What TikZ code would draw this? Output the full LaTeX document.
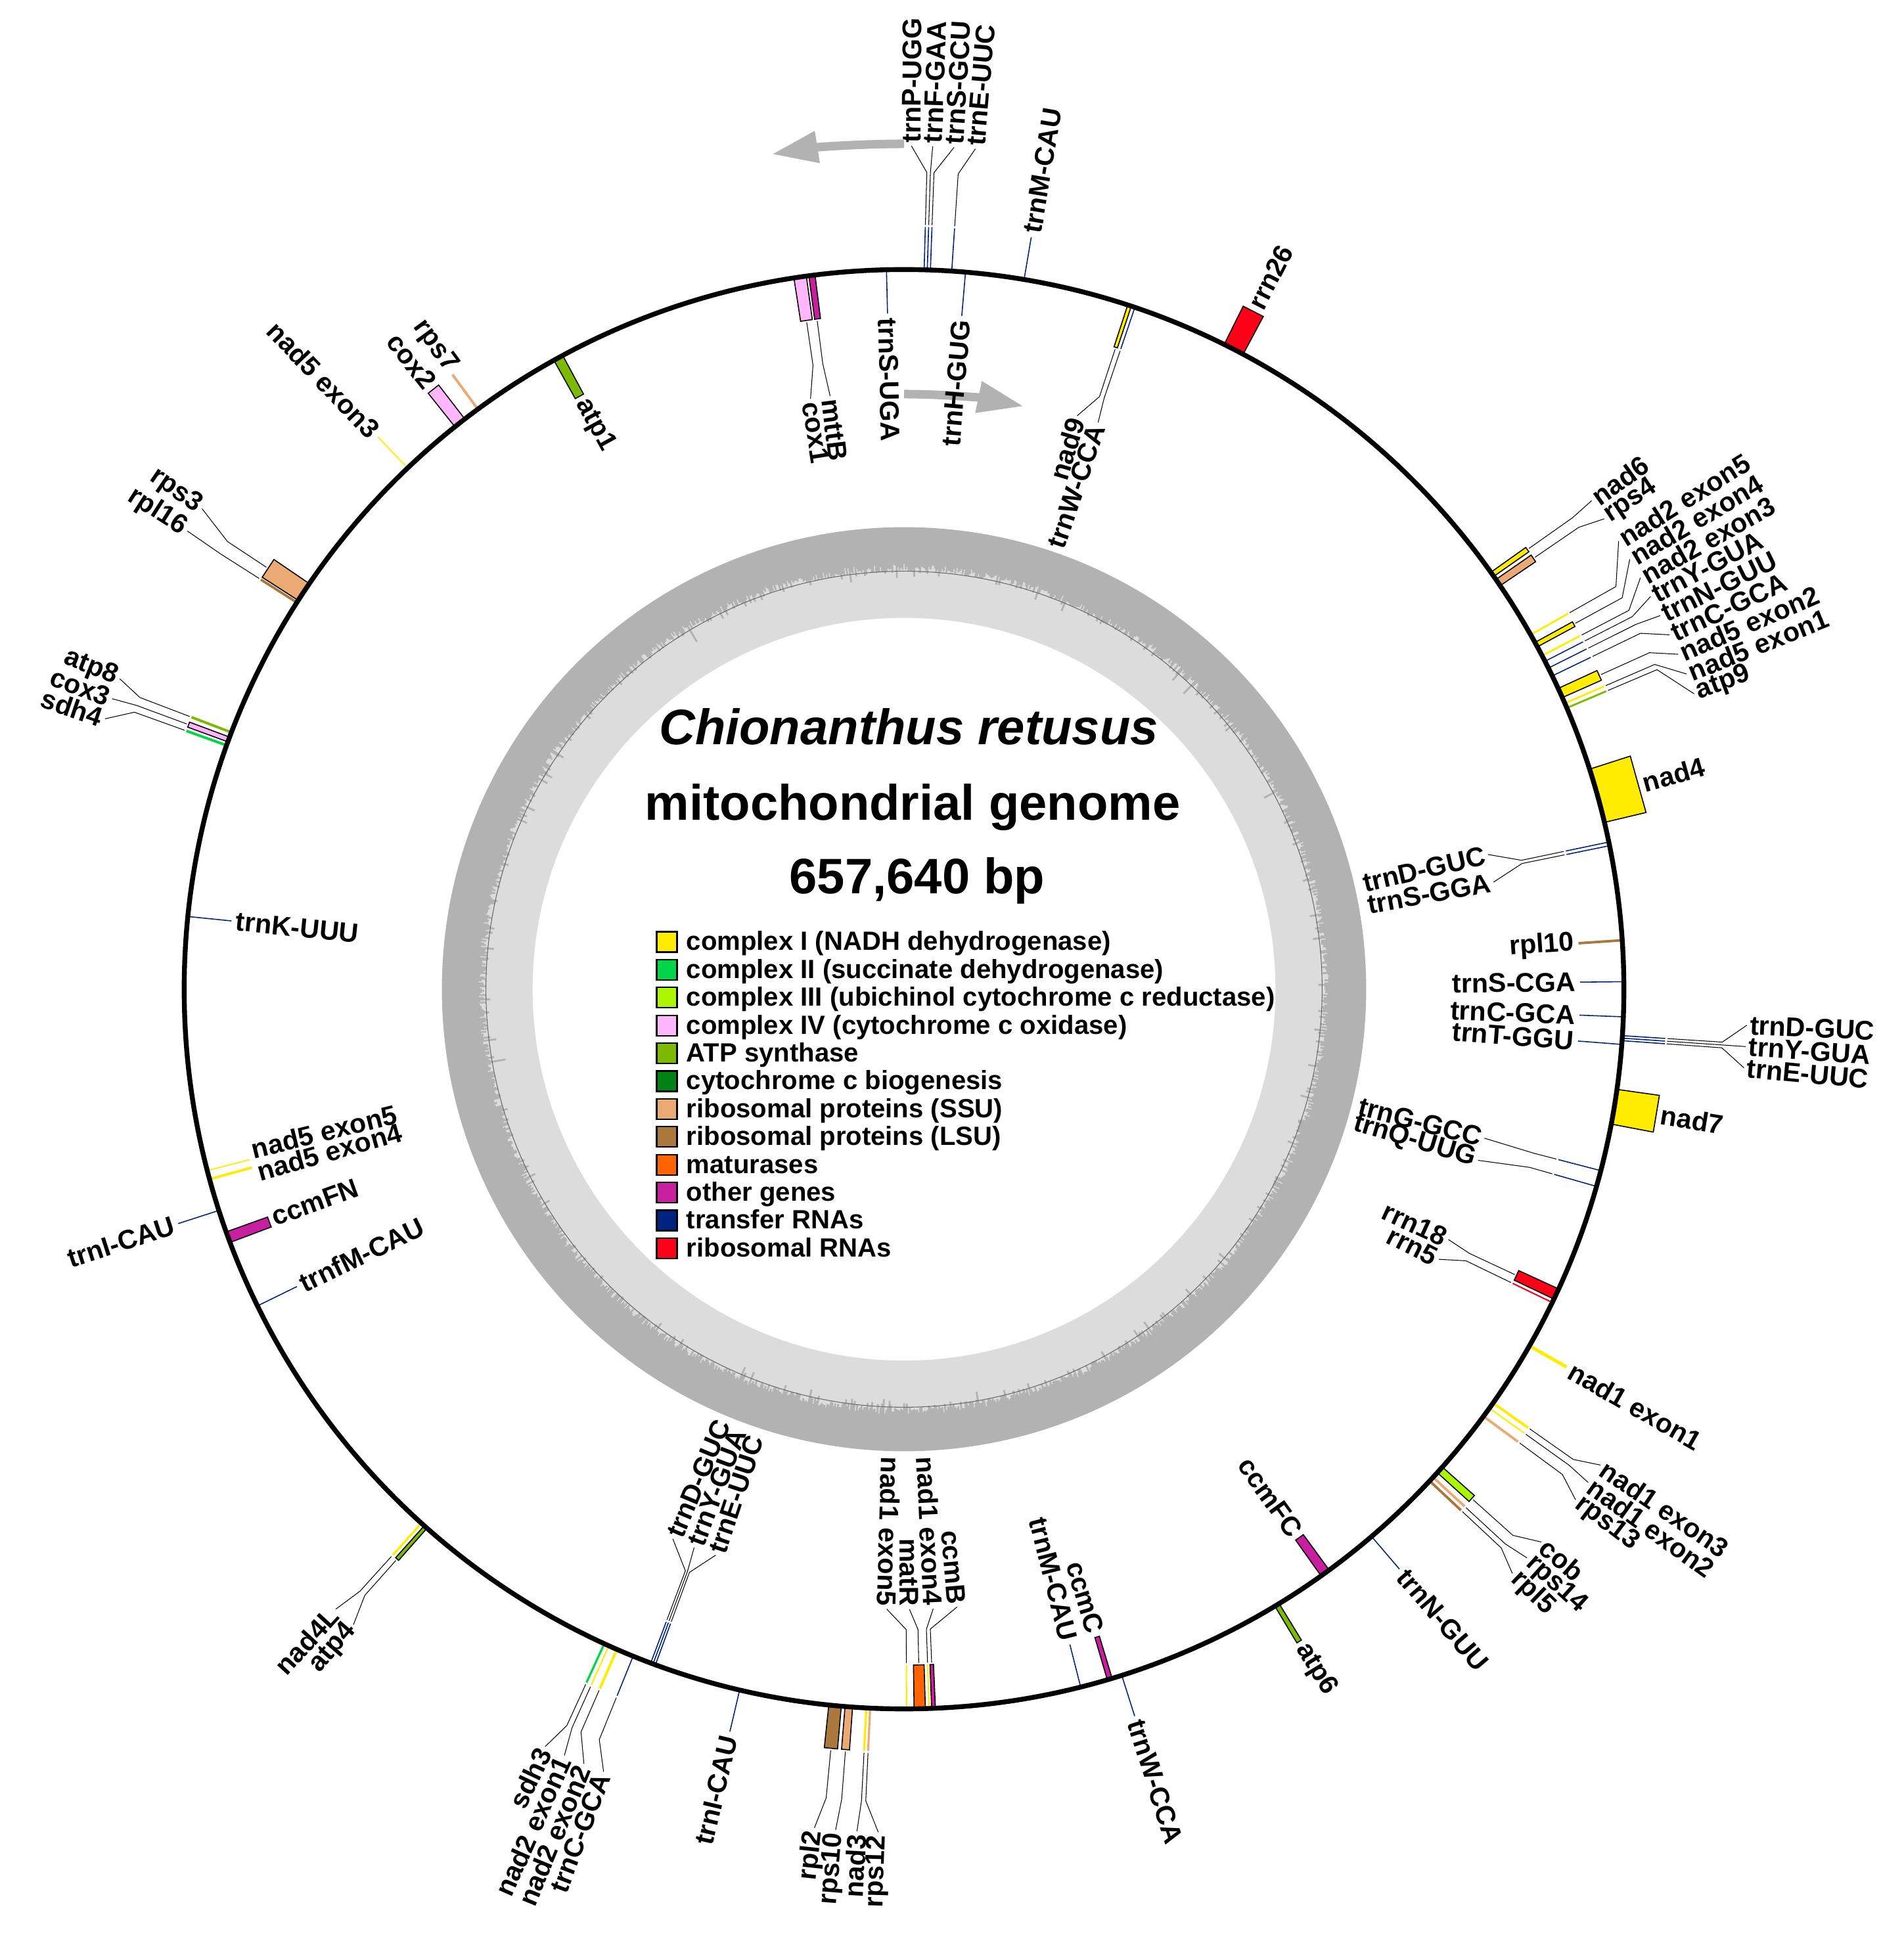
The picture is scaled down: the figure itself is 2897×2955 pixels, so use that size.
\documentclass[tikz,border=0pt]{standalone}
\usepackage{fontspec}
\setmainfont{Liberation Sans}
\usetikzlibrary{arrows.meta}

\definecolor{cnad}{RGB}{255,236,0}
\definecolor{csdh}{RGB}{0,214,72}
\definecolor{ccob}{RGB}{172,245,0}
\definecolor{ccox}{RGB}{255,182,250}
\definecolor{catp}{RGB}{125,185,0}
\definecolor{cccm}{RGB}{0,130,20}
\definecolor{cssu}{RGB}{235,170,115}
\definecolor{clsu}{RGB}{170,120,60}
\definecolor{cmat}{RGB}{255,100,0}
\definecolor{coth}{RGB}{200,30,160}
\definecolor{ctrn}{RGB}{0,35,130}
\definecolor{crrn}{RGB}{255,0,25}
\definecolor{gcdark}{RGB}{178,178,178}
\definecolor{gclight}{RGB}{220,220,220}

\newcommand{\rmain}{1095}
\newcommand{\gh}{66}

\tikzset{
  genebox/.style={draw=black, line width=0.45pt},
  leader/.style={draw=black, line width=0.3pt},
  glab/.style={font=\fontsize{11.7}{13}\selectfont\bfseries, inner sep=1.2pt},
  legbox/.style={draw=black, line width=0.6pt, minimum size=0.31cm, inner sep=0pt},
  legtext/.style={anchor=base west, font=\fontsize{11.4}{13}\selectfont\bfseries, inner sep=1.2pt},
  titletext/.style={anchor=base, inner sep=0pt},
  garrow/.style={draw=gcdark, line width=3.7pt, -{Triangle[width=13pt, length=20pt]}}
}

% gene drawn as a box: angle from, angle to, side (1 out, -1 in), colour
\newcommand{\gbox}[4]{%
  \filldraw[fill=#4, genebox] ({90-#1}:\rmain) -- ({90-#1}:{\rmain+(#3)*\gh})
    -- ({90-#2}:{\rmain+(#3)*\gh}) -- ({90-#2}:\rmain) -- cycle;}
% short gene drawn as a line: angle, side, colour, width
\newcommand{\gline}[4]{%
  \draw[#3, line width=#4] ({90-#1}:\rmain) -- ({90-#1}:{\rmain+(#2)*\gh});}
% label: name, gene angle, label angle, side, kink radius (0 = none), label radius, text
\newcommand{\glab}[7]{%
  \pgfmathsetmacro{\lrot}{#2<180 ? 90-#3 : 270-#3}%
  \pgfmathsetmacro{\lsgn}{(#2<180 ? 1 : -1)*(#4)}%
  \ifdim\lsgn pt>0pt \def\lanc{west}\else\def\lanc{east}\fi
  \node[glab, rotate=\lrot, anchor=\lanc] (#1) at ({90-#3}:#6) {#7};
  \ifdim #5pt>0pt
    \draw[leader] ({90-#2}:{\rmain+(#4)*(\gh+3)}) -- ({90-#2}:#5) -- (#1.\lanc);
  \fi}

\begin{document}
\begin{tikzpicture}[x=0.01cm, y=0.01cm]
\useasboundingbox (-1376,-1449) rectangle (1521,1506);
\fill[white] (-1376,-1449) rectangle (1521,1506);

% GC content ring
\fill[gcdark] (0,0) circle[radius=7.03cm];
\fill[gclight] (0,0) circle[radius=6.50cm];
\pgfmathsetseed{11}
\foreach \a in {0,0.2,...,359.9}{
  \pgfmathsetmacro{\spk}{3+12*rnd+34*rnd*rnd*rnd*rnd}
  \draw[gcdark, line width=0.8pt] (\a:651) -- (\a:{651-\spk});
}
\draw[black!60, line width=0.3pt] (0,0) circle[radius=6.36cm];
\fill[white] (0,0) circle[radius=5.65cm];

% strand arrows
\draw[garrow] (90:1287) arc[start angle=90, end angle=99, radius=12.87cm];
\draw[garrow] (90:906) arc[start angle=90, end angle=78.4, radius=9.06cm];

% title
\node[titletext, font=\fontsize{21.6}{24}\selectfont\bfseries\itshape] (ttl) at (7,372) {Chionanthus retusus};
\node[titletext, font=\fontsize{21.6}{24}\selectfont\bfseries] (sub) at (13,257) {mitochondrial genome};
\node[titletext, font=\fontsize{21.6}{24}\selectfont\bfseries] (len) at (20,145) {657,640 bp};

% legend
\node[legbox, fill=cnad] (k1) at (-361,72) {};
\node[legtext] (e1) at (-336,59) {complex I (NADH dehydrogenase)};
\node[legbox, fill=csdh] (k2) at (-361,29.6) {};
\node[legtext] (e2) at (-336,16.6) {complex II (succinate dehydrogenase)};
\node[legbox, fill=ccob] (k3) at (-361,-12.8) {};
\node[legtext] (e3) at (-336,-25.8) {complex III (ubichinol cytochrome c reductase)};
\node[legbox, fill=ccox] (k4) at (-361,-55.2) {};
\node[legtext] (e4) at (-336,-68.2) {complex IV (cytochrome c oxidase)};
\node[legbox, fill=catp] (k5) at (-361,-97.6) {};
\node[legtext] (e5) at (-336,-110.6) {ATP synthase};
\node[legbox, fill=cccm] (k6) at (-361,-140) {};
\node[legtext] (e6) at (-336,-153) {cytochrome c biogenesis};
\node[legbox, fill=cssu] (k7) at (-361,-182.4) {};
\node[legtext] (e7) at (-336,-195.4) {ribosomal proteins (SSU)};
\node[legbox, fill=clsu] (k8) at (-361,-224.8) {};
\node[legtext] (e8) at (-336,-237.8) {ribosomal proteins (LSU)};
\node[legbox, fill=cmat] (k9) at (-361,-267.2) {};
\node[legtext] (e9) at (-336,-280.2) {maturases};
\node[legbox, fill=coth] (k10) at (-361,-309.6) {};
\node[legtext] (e10) at (-336,-322.6) {other genes};
\node[legbox, fill=ctrn] (k11) at (-361,-352) {};
\node[legtext] (e11) at (-336,-365) {transfer RNAs};
\node[legbox, fill=crrn] (k12) at (-361,-394.4) {};
\node[legtext] (e12) at (-336,-407.4) {ribosomal RNAs};

% genes outside the circle
\gline{1.6}{1}{ctrn}{0.45pt}
\gline{1.85}{1}{ctrn}{0.45pt}
\gline{2.1}{1}{ctrn}{0.45pt}
\gline{3.8}{1}{ctrn}{0.45pt}
\gline{9.6}{1}{ctrn}{0.45pt}
\gbox{26.4}{28.1}{1}{crrn}
\gbox{54.6}{55.0}{1}{cnad}
\gbox{55.3}{55.9}{1}{cssu}
\gline{60.5}{1}{cnad}{0.8pt}
\gbox{61.2}{61.6}{1}{cnad}
\gline{62.4}{1}{cnad}{0.8pt}
\gline{62.9}{1}{ctrn}{0.45pt}
\gline{63.5}{1}{ctrn}{0.45pt}
\gline{64.2}{1}{ctrn}{0.45pt}
\gbox{65.3}{66.1}{1}{cnad}
\gline{66.6}{1}{cnad}{0.8pt}
\gline{67.0}{1}{catp}{0.8pt}
\gbox{72.2}{76.6}{1}{cnad}
\gline{93.7}{1}{ctrn}{0.45pt}
\gline{93.9}{1}{ctrn}{0.45pt}
\gline{94.1}{1}{ctrn}{0.45pt}
\gbox{98.0}{100.8}{1}{cnad}
\gline{119.7}{1}{cnad}{1.4pt}
\gline{125.1}{1}{cnad}{1.1pt}
\gline{125.6}{1}{cnad}{0.6pt}
\gline{126.4}{1}{cssu}{1.1pt}
\gbox{131.6}{132.2}{1}{ccob}
\gline{132.7}{1}{cssu}{1.1pt}
\gline{133.1}{1}{clsu}{1.1pt}
\gline{139.5}{1}{ctrn}{0.45pt}
\gbox{148.6}{149.0}{1}{catp}
\gline{162.4}{1}{ctrn}{0.45pt}
\gline{182.7}{1}{cssu}{0.9pt}
\gline{183.0}{1}{cnad}{0.9pt}
\gbox{184.1}{184.7}{1}{cssu}
\gbox{185.0}{186.0}{1}{clsu}
\gline{193.2}{1}{ctrn}{0.45pt}
\gline{202.1}{1}{ctrn}{0.45pt}
\gline{203.5}{1}{cnad}{1.1pt}
\gline{204.2}{1}{cnad}{0.6pt}
\gline{204.6}{1}{csdh}{0.9pt}
\gbox{221.5}{221.8}{1}{catp}
\gline{222.1}{1}{cnad}{0.9pt}
\gline{252.1}{1}{ctrn}{0.45pt}
\gline{289.8}{1}{csdh}{1.1pt}
\gbox{290.1}{290.5}{1}{ccox}
\gline{290.9}{1}{catp}{1.1pt}
\gline{302.5}{1}{clsu}{1.1pt}
\gbox{302.7}{304.3}{1}{cssu}
\gline{316.4}{1}{cnad}{0.5pt}
\gbox{321.4}{322.4}{1}{ccox}
\gline{323.7}{1}{cssu}{1.1pt}

% genes inside the circle
\gbox{351.2}{352.2}{-1}{ccox}
\gbox{352.4}{352.9}{-1}{coth}
\gline{358.6}{-1}{ctrn}{0.45pt}
\gline{4.9}{-1}{ctrn}{0.45pt}
\gbox{18.1}{18.4}{-1}{cnad}
\gline{18.7}{-1}{ctrn}{0.45pt}
\gline{78.2}{-1}{ctrn}{0.45pt}
\gline{78.5}{-1}{ctrn}{0.45pt}
\gline{86.1}{-1}{clsu}{1.1pt}
\gline{89.4}{-1}{ctrn}{0.45pt}
\gline{92.2}{-1}{ctrn}{0.45pt}
\gline{94.4}{-1}{ctrn}{0.45pt}
\gline{104.6}{-1}{ctrn}{0.45pt}
\gline{105.9}{-1}{ctrn}{0.45pt}
\gbox{114.6}{115.5}{-1}{crrn}
\gline{115.8}{-1}{crrn}{0.6pt}
\gbox{143.8}{144.6}{-1}{coth}
\gbox{163.2}{163.6}{-1}{coth}
\gline{165.8}{-1}{ctrn}{0.45pt}
\gbox{177.5}{177.8}{-1}{coth}
\gline{178.0}{-1}{cnad}{0.6pt}
\gbox{178.3}{179.2}{-1}{cmat}
\gline{179.8}{-1}{cnad}{0.6pt}
\gline{200.2}{-1}{ctrn}{0.45pt}
\gline{200.4}{-1}{ctrn}{0.45pt}
\gline{200.6}{-1}{ctrn}{0.45pt}
\gline{243.9}{-1}{ctrn}{0.45pt}
\gbox{249.4}{250.3}{-1}{coth}
\gline{254.7}{-1}{cnad}{1.1pt}
\gline{255.4}{-1}{cnad}{0.5pt}
\gline{275.8}{-1}{ctrn}{0.45pt}
\gbox{330.9}{331.7}{-1}{catp}

% genome circle
\draw[line width=2.1pt] (0,0) circle[radius=10.95cm];

% labels outside
\glab{tP}{1.6}{0.5}{1}{1244}{1284}{trnP-UGG}
\glab{tF}{1.85}{1.95}{1}{1244}{1284}{trnF-GAA}
\glab{tSg}{2.1}{3.4}{1}{1244}{1284}{trnS-GCU}
\glab{tEu}{3.8}{4.85}{1}{1244}{1284}{trnE-UUC}
\glab{tMa}{9.6}{9.6}{1}{0}{1163}{trnM-CAU}
\glab{r26}{27.25}{27.25}{1}{0}{1163}{rrn26}
\glab{n6}{54.8}{54.6}{1}{1245}{1284}{nad6}
\glab{s4}{55.6}{56.1}{1}{1245}{1284}{rps4}
\glab{n2e5}{60.5}{57.9}{1}{1245}{1284}{nad2 exon5}
\glab{n2e4}{61.4}{59.35}{1}{1245}{1284}{nad2 exon4}
\glab{n2e3}{62.4}{60.8}{1}{1245}{1284}{nad2 exon3}
\glab{tYa}{62.9}{62.25}{1}{1245}{1284}{trnY-GUA}
\glab{tNa}{63.5}{63.7}{1}{1245}{1284}{trnN-GUU}
\glab{tCa}{64.2}{65.15}{1}{1245}{1284}{trnC-GCA}
\glab{n5e2}{65.7}{66.6}{1}{1245}{1284}{nad5 exon2}
\glab{n5e1}{66.6}{68.05}{1}{1245}{1284}{nad5 exon1}
\glab{a9}{67.0}{69.5}{1}{1245}{1284}{atp9}
\glab{n4}{74.4}{74.4}{1}{0}{1163}{nad4}
\glab{tDb}{93.7}{92.45}{1}{1248}{1284}{trnD-GUC}
\glab{tYb}{93.9}{93.9}{1}{1248}{1284}{trnY-GUA}
\glab{tEb}{94.1}{95.35}{1}{1248}{1284}{trnE-UUC}
\glab{n7}{99.4}{99.4}{1}{0}{1163}{nad7}
\glab{n1e1}{119.7}{119.7}{1}{0}{1163}{nad1 exon1}
\glab{n1e3}{125.1}{124.35}{1}{1245}{1284}{nad1 exon3}
\glab{n1e2}{125.6}{125.8}{1}{1245}{1284}{nad1 exon2}
\glab{s13}{126.4}{127.25}{1}{1245}{1284}{rps13}
\glab{cb}{131.9}{130.95}{1}{1245}{1284}{cob}
\glab{s14}{132.7}{132.4}{1}{1245}{1284}{rps14}
\glab{l5}{133.1}{133.85}{1}{1245}{1284}{rpl5}
\glab{tNb}{139.5}{139.5}{1}{0}{1163}{trnN-GUU}
\glab{a6}{148.8}{148.8}{1}{0}{1163}{atp6}
\glab{tWb}{162.4}{162.4}{1}{0}{1163}{trnW-CCA}
\glab{s12}{182.7}{181.75}{1}{1237}{1284}{rps12}
\glab{n3}{183.0}{183.2}{1}{1237}{1284}{nad3}
\glab{s10}{184.4}{184.65}{1}{1237}{1284}{rps10}
\glab{l2}{185.5}{186.1}{1}{1237}{1284}{rpl2}
\glab{tIa}{193.2}{193.2}{1}{0}{1163}{trnI-CAU}
\glab{tCb}{202.1}{201.0}{1}{1233}{1276}{trnC-GCA}
\glab{n2e2}{203.5}{202.45}{1}{1233}{1276}{nad2 exon2}
\glab{n2e1}{204.2}{203.9}{1}{1233}{1276}{nad2 exon1}
\glab{sd3}{204.6}{205.35}{1}{1233}{1276}{sdh3}
\glab{a4}{221.65}{220.9}{1}{1235}{1280}{atp4}
\glab{n4L}{222.1}{222.5}{1}{1235}{1280}{nad4L}
\glab{tIb}{252.1}{252.1}{1}{0}{1163}{trnI-CAU}
\glab{sd4}{289.8}{288.7}{1}{1245}{1284}{sdh4}
\glab{c3}{290.3}{290.15}{1}{1245}{1284}{cox3}
\glab{a8}{290.9}{291.6}{1}{1245}{1284}{atp8}
\glab{l16}{302.5}{302.6}{1}{1235}{1295}{rpl16}
\glab{s3}{303.5}{304.4}{1}{1235}{1295}{rps3}
\glab{n5e3}{316.4}{316.4}{1}{0}{1163}{nad5 exon3}
\glab{c2}{321.9}{321.9}{1}{0}{1163}{cox2}
\glab{s7}{323.7}{323.9}{1}{0}{1163}{rps7}

% labels inside
\glab{c1}{351.7}{351.0}{-1}{960}{910}{cox1}
\glab{mB}{352.6}{352.9}{-1}{960}{910}{mttB}
\glab{tSu}{358.6}{358.6}{-1}{0}{1027}{trnS-UGA}
\glab{tH}{4.9}{4.9}{-1}{0}{1027}{trnH-GUG}
\glab{n9}{18.25}{16.8}{-1}{950}{912}{nad9}
\glab{tWa}{18.7}{18.9}{-1}{950}{912}{trnW-CCA}
\glab{tDa}{78.2}{77.0}{-1}{960}{912}{trnD-GUC}
\glab{tSa}{78.5}{79.7}{-1}{960}{912}{trnS-GGA}
\glab{l10}{86.1}{86.1}{-1}{0}{1027}{rpl10}
\glab{tSc}{89.4}{89.4}{-1}{0}{1027}{trnS-CGA}
\glab{tCc}{92.2}{92.2}{-1}{0}{1027}{trnC-GCA}
\glab{tT}{94.4}{94.4}{-1}{0}{1027}{trnT-GGU}
\glab{tG}{104.6}{104.4}{-1}{990}{912}{trnG-GCC}
\glab{tQ}{105.9}{106.6}{-1}{990}{912}{trnQ-UUG}
\glab{r18}{115.05}{114.7}{-1}{950}{912}{rrn18}
\glab{r5}{115.8}{116.8}{-1}{950}{912}{rrn5}
\glab{cFC}{144.2}{144.2}{-1}{0}{1027}{ccmFC}
\glab{cC}{163.4}{163.4}{-1}{0}{1027}{ccmC}
\glab{tMb}{165.8}{165.8}{-1}{0}{1027}{trnM-CAU}
\glab{cB}{177.65}{175.1}{-1}{975}{944}{ccmB}
\glab{n1e4}{178.0}{177.3}{-1}{975}{944}{nad1 exon4}
\glab{mR}{178.75}{179.5}{-1}{975}{944}{matR}
\glab{n1e5}{179.8}{181.6}{-1}{975}{944}{nad1 exon5}
\glab{tDc}{200.6}{202.8}{-1}{946}{908}{trnD-GUC}
\glab{tYc}{200.4}{200.6}{-1}{946}{908}{trnY-GUA}
\glab{tEc}{200.2}{198.4}{-1}{946}{908}{trnE-UUC}
\glab{tfM}{243.9}{243.9}{-1}{0}{1027}{trnfM-CAU}
\glab{cFN}{249.85}{250.1}{-1}{0}{1027}{ccmFN}
\glab{n5e4}{254.7}{254.2}{-1}{0}{1027}{nad5 exon4}
\glab{n5e5}{255.4}{256.2}{-1}{0}{1027}{nad5 exon5}
\glab{tK}{275.8}{275.8}{-1}{0}{1027}{trnK-UUU}
\glab{a1}{331.3}{331.3}{-1}{0}{1027}{atp1}
\end{tikzpicture}
\end{document}
